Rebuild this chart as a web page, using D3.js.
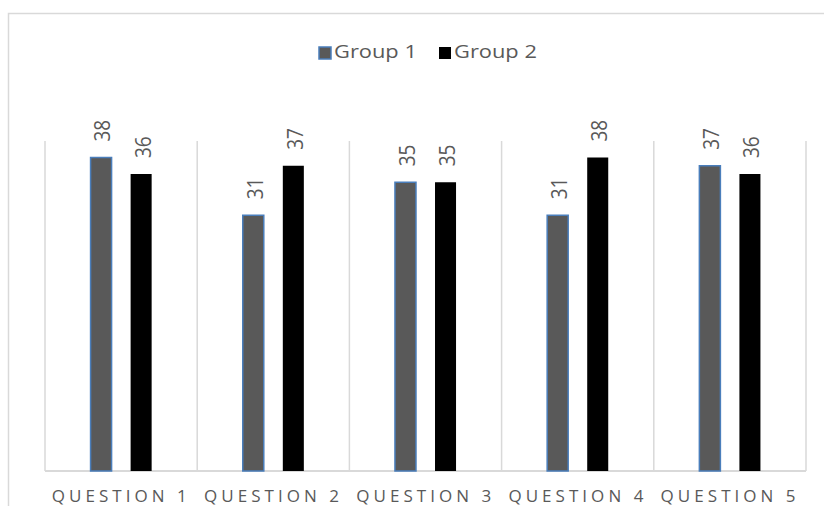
<!DOCTYPE html>
<html>
<head>
<meta charset="utf-8">
<script src="https://cdn.jsdelivr.net/npm/d3@7"></script>
<style>
  html, body { margin: 0; padding: 0; background: #fff; }
  svg { display: block; }
  text { font-family: "Open Sans", Lato, sans-serif; }
</style>
</head>
<body>
<svg id="chart" width="824" height="506"></svg>
<script>
// Survey scores per question for two groups
const categories = ["Question 1", "Question 2", "Question 3", "Question 4", "Question 5"];
const seriesNames = ["Group 1", "Group 2"];
const group1 = [38, 31, 35, 31, 37];
const group2 = [36, 37, 35, 38, 36];
const yMax = 40;

const width = 824, height = 506;
const plot = { left: 45, right: 806, top: 141, bottom: 471 };
const textColor = "#595959";
const wideX = 1.15; // horizontal stretch of the chart's lettering

const fills = { "Group 1": "#595959", "Group 2": "#000000" };
const strokes = { "Group 1": "#4a7ebb", "Group 2": "none" };

const svg = d3.select("#chart");

// chart frame
svg.append("rect")
  .attr("x", 8.5).attr("y", 13.5)
  .attr("width", width + 10).attr("height", height + 10)
  .attr("fill", "#fff").attr("stroke", "#d9d9d9").attr("stroke-width", 1.5);

const x = d3.scaleBand().domain(categories).range([plot.left, plot.right]).padding(0);
const xInner = d3.scaleBand().domain(seriesNames).range([0, x.bandwidth()])
  .paddingInner(0.475).paddingOuter(1.1375);
const y = d3.scaleLinear().domain([0, yMax]).range([plot.bottom, plot.top]);

// vertical separators between categories
const bounds = categories.map(c => x(c)).concat([plot.right]);
svg.append("g").selectAll("line").data(bounds).join("line")
  .attr("x1", d => d).attr("x2", d => d)
  .attr("y1", plot.top).attr("y2", plot.bottom)
  .attr("stroke", "#d9d9d9").attr("stroke-width", 1.5);

// baseline
svg.append("line")
  .attr("x1", plot.left).attr("x2", plot.right)
  .attr("y1", plot.bottom).attr("y2", plot.bottom)
  .attr("stroke", "#d9d9d9").attr("stroke-width", 2);

const rows = categories.map((c, i) => ({ cat: c, values: [
  { name: "Group 1", value: group1[i] },
  { name: "Group 2", value: group2[i] }
]}));

const groups = svg.append("g").selectAll("g").data(rows).join("g")
  .attr("transform", d => `translate(${x(d.cat)},0)`);

groups.selectAll("rect").data(d => d.values).join("rect")
  .attr("x", d => xInner(d.name))
  .attr("y", d => y(d.value))
  .attr("width", xInner.bandwidth())
  .attr("height", d => y(0) - y(d.value))
  .attr("fill", d => fills[d.name])
  .attr("stroke", d => strokes[d.name])
  .attr("stroke-width", 1.5);

// rotated value labels above each bar
groups.selectAll("text").data(d => d.values).join("text")
  .attr("transform", d => `translate(${xInner(d.name) + xInner.bandwidth() / 2 + 9.4},${y(d.value) - 16}) scale(${wideX},1) rotate(-90)`)
  .attr("text-anchor", "start")
  .attr("font-size", 19)
  .attr("fill", textColor)
  .text(d => d.value);

// category axis labels, widely tracked
svg.append("g").selectAll("text").data(categories).join("text")
  .attr("x", d => x(d) + x.bandwidth() / 2 - 1.8)
  .attr("y", 501.5)
  .attr("text-anchor", "middle")
  .attr("font-size", 17)
  .attr("textLength", 135)
  .attr("lengthAdjust", "spacing")
  .attr("fill", textColor)
  .text(d => d.toUpperCase());

// legend
const legend = svg.append("g");
const legendItems = [
  { name: "Group 1", x: 319 },
  { name: "Group 2", x: 439 }
];
legend.selectAll("rect").data(legendItems).join("rect")
  .attr("x", d => d.x).attr("y", 47)
  .attr("width", 12).attr("height", 12)
  .attr("fill", d => fills[d.name])
  .attr("stroke", d => strokes[d.name])
  .attr("stroke-width", 1.5);
legend.selectAll("text").data(legendItems).join("text")
  .attr("transform", d => `translate(${d.x + 15},58.3) scale(${wideX},1)`)
  .attr("font-size", 19)
  .attr("fill", textColor)
  .text(d => d.name);
</script>
</body>
</html>
